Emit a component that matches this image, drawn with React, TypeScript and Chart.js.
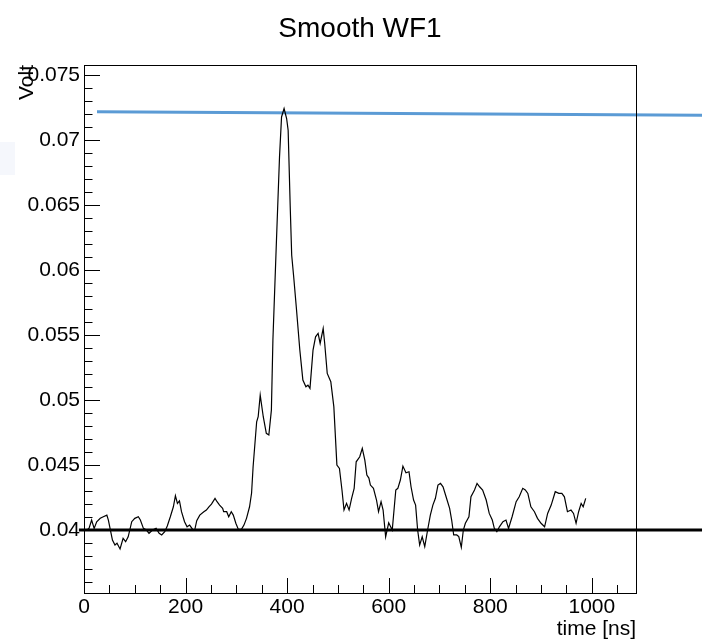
import { useEffect, useRef } from "react";
import { Chart, registerables } from "chart.js";

Chart.register(...registerables);

const FONT = "'Liberation Sans', Arial, Helvetica, sans-serif";

const TITLE = "Smooth WF1";
const X_TITLE = "time [ns]";
const Y_TITLE = "Volt";

const X_RANGE = [0, 1087];
const Y_RANGE = [0.035154, 0.07579];
const X_TICKS = [0, 200, 400, 600, 800, 1000];
const X_TICK_LABELS = ["0", "200", "400", "600", "800", "1000"];
const Y_TICKS = [0.04, 0.045, 0.05, 0.055, 0.06, 0.065, 0.07, 0.075];
const Y_TICK_LABELS = ["0.04", "0.045", "0.05", "0.055", "0.06", "0.065", "0.07", "0.075"];
const X_MINOR_STEP = 50;
const Y_MINOR_STEP = 0.001;

const TIME_NS = [
  6, 10, 15, 20, 25, 32, 38, 45, 48, 52, 56, 61, 65, 71, 77, 82, 87, 94, 100, 107,
  111, 117, 123, 128, 135, 142, 148, 153, 159, 164, 170, 176, 180, 184, 188, 192, 198, 203, 208, 214,
  218, 222, 228, 236, 241, 246, 251, 258, 262, 267, 273, 275, 281, 285, 290, 294, 299, 304, 310, 315,
  320, 326, 330, 333, 340, 343, 347, 353, 359, 364, 369, 372, 379, 385, 389, 394, 399, 402, 406, 409,
  413, 418, 425, 431, 437, 441, 445, 451, 456, 461, 465, 471, 474, 479, 486, 492, 498, 503, 508, 512,
  517, 522, 527, 532, 536, 543, 548, 553, 557, 561, 564, 570, 576, 580, 585, 589, 594, 600, 607, 614,
  618, 623, 628, 634, 640, 644, 649, 653, 657, 661, 666, 671, 677, 682, 687, 692, 697, 702, 707, 713,
  720, 724, 728, 734, 738, 743, 747, 751, 758, 762, 769, 774, 779, 785, 792, 798, 804, 808, 813, 818,
  825, 831, 836, 843, 851, 857, 864, 869, 874, 880, 887, 893, 900, 907, 913, 920, 928, 935, 941, 946,
  952, 959, 964, 969, 974, 979, 983, 988,
];

const VOLT = [
  0.0400, 0.04015, 0.04077, 0.04013, 0.04064, 0.0409, 0.04102, 0.04115, 0.04077, 0.0400, 0.03923, 0.03885, 0.03898, 0.03854, 0.03936, 0.0391, 0.03948, 0.04064, 0.0409, 0.04102,
  0.04077, 0.04013, 0.0400, 0.03975, 0.0400, 0.04013, 0.03975, 0.03962, 0.03987, 0.04031, 0.04102, 0.04179, 0.04264, 0.04205, 0.04225, 0.04141, 0.04064, 0.04025, 0.04038, 0.04005,
  0.0400, 0.04072, 0.04115, 0.04141, 0.04154, 0.04179, 0.042, 0.04244, 0.04218, 0.04192, 0.04167, 0.04141, 0.04141, 0.04102, 0.04141, 0.04115, 0.04052, 0.04005, 0.04005, 0.04038,
  0.0409, 0.04179, 0.04285, 0.04487, 0.04833, 0.04872, 0.05038, 0.04872, 0.04744, 0.04731, 0.04923, 0.05462, 0.0623, 0.06871, 0.07179, 0.07244, 0.07167, 0.07077, 0.065, 0.06115,
  0.05946, 0.05718, 0.05385, 0.05154, 0.05103, 0.05115, 0.0509, 0.05385, 0.05487, 0.05513, 0.05436, 0.05551, 0.05436, 0.05205, 0.05141, 0.04948, 0.045, 0.04474, 0.04308, 0.04154,
  0.04205, 0.04154, 0.04244, 0.04321, 0.04525, 0.04564, 0.04628, 0.04538, 0.04423, 0.044, 0.04346, 0.04321, 0.04231, 0.04141, 0.04218, 0.04154, 0.03948, 0.04056, 0.0400, 0.04308,
  0.04321, 0.04385, 0.04492, 0.04441, 0.04449, 0.04333, 0.04231, 0.04192, 0.0400, 0.03885, 0.03948, 0.03872, 0.04008, 0.04115, 0.04192, 0.04244, 0.04346, 0.04359, 0.04333, 0.04256,
  0.04167, 0.04077, 0.03962, 0.03962, 0.03949, 0.03867, 0.0400, 0.04052, 0.04102, 0.04256, 0.04308, 0.04359, 0.04333, 0.04308, 0.04231, 0.04128, 0.04077, 0.04013, 0.03987, 0.04025,
  0.04064, 0.04077, 0.04013, 0.04102, 0.04218, 0.04256, 0.04321, 0.04308, 0.04282, 0.04179, 0.04141, 0.0409, 0.04052, 0.04025, 0.04128, 0.04192, 0.04295, 0.04282, 0.04282, 0.04256,
  0.04141, 0.04154, 0.04128, 0.04052, 0.04141, 0.04205, 0.04179, 0.04244,
];

// horizontal reference lines (extend past the frame)
const BASELINE_T = [-10, 1217];
const BASELINE_V = [0.04, 0.04];
const FIT_T = [25.6, 1217];
const FIT_V = [0.07219, 0.07192];

const rootFrame = {
  id: "rootFrame",
  afterDatasetsDraw(chart: any) {
    const { ctx, chartArea: a, scales } = chart;
    const x = scales.x;
    const y = scales.y;
    ctx.save();
    ctx.strokeStyle = "#000";
    ctx.lineWidth = 1;
    ctx.strokeRect(Math.round(a.left) + 0.5, Math.round(a.top) + 0.5, Math.round(a.right - a.left), Math.round(a.bottom - a.top));
    ctx.beginPath();
    const xi0 = Math.ceil(X_RANGE[0] / X_MINOR_STEP);
    const xi1 = Math.floor(X_RANGE[1] / X_MINOR_STEP);
    for (let i = xi0; i <= xi1; i++) {
      const v = i * X_MINOR_STEP;
      const px = Math.round(x.getPixelForValue(v)) + 0.5;
      const len = X_TICKS.includes(v) ? 15 : 8;
      ctx.moveTo(px, a.bottom);
      ctx.lineTo(px, a.bottom - len);
    }
    const yi0 = Math.ceil(Y_RANGE[0] / Y_MINOR_STEP - 1e-6);
    const yi1 = Math.floor(Y_RANGE[1] / Y_MINOR_STEP + 1e-6);
    for (let i = yi0; i <= yi1; i++) {
      const v = i * Y_MINOR_STEP;
      const py = Math.round(y.getPixelForValue(v)) + 0.5;
      const major = i % 5 === 0;
      const len = major ? 16 : 8.5;
      ctx.moveTo(a.left, py);
      ctx.lineTo(a.left + len, py);
    }
    ctx.stroke();
    ctx.restore();
  },
};

export default function App() {
  const ref = useRef<HTMLCanvasElement | null>(null);

  useEffect(() => {
    if (!ref.current) return;
    const toPts = (xs: number[], ys: number[]) => xs.map((t, i) => ({ x: t, y: ys[i] }));
    const chart = new Chart(ref.current, {
      type: "line",
      data: {
        datasets: [
          {
            data: toPts(TIME_NS, VOLT),
            borderColor: "#000",
            borderWidth: 1.2,
            pointRadius: 0,
            tension: 0,
            fill: false,
          },
          {
            data: toPts(BASELINE_T, BASELINE_V),
            borderColor: "#000",
            borderWidth: 3,
            pointRadius: 0,
            clip: false as any,
          },
          {
            data: toPts(FIT_T, FIT_V),
            borderColor: "#5b9bd5",
            borderWidth: 3,
            pointRadius: 0,
            clip: false as any,
          },
        ],
      },
      options: {
        responsive: false,
        animation: false,
        devicePixelRatio: 1,
        events: [],
        layout: { padding: { left: 0, top: 0, right: 67, bottom: 0 } },
        plugins: {
          legend: { display: false },
          tooltip: { enabled: false },
          title: {
            display: true,
            text: TITLE,
            fullSize: false,
            color: "#000",
            font: { family: FONT, size: 28, weight: "normal" },
            padding: { top: 12.5, bottom: 18.9 },
          },
        },
        scales: {
          x: {
            type: "linear",
            min: X_RANGE[0],
            max: X_RANGE[1],
            grid: { display: false, drawTicks: false },
            border: { display: false },
            afterBuildTicks: (s: any) => {
              s.ticks = X_TICKS.map((v) => ({ value: v }));
            },
            afterFit: (s: any) => {
              s.height = 49;
            },
            ticks: {
              autoSkip: false,
              maxRotation: 0,
              padding: 2,
              color: "#000",
              font: { family: FONT, size: 21 },
              callback: (v: any) => X_TICK_LABELS[X_TICKS.indexOf(Number(v))] ?? "",
            },
            title: {
              display: true,
              text: X_TITLE,
              align: "end",
              color: "#000",
              font: { family: FONT, size: 21 },
              padding: { top: 0, bottom: 0 },
            },
          },
          y: {
            type: "linear",
            min: Y_RANGE[0],
            max: Y_RANGE[1],
            grid: { display: false, drawTicks: false },
            border: { display: false },
            afterBuildTicks: (s: any) => {
              s.ticks = Y_TICKS.map((v) => ({ value: v }));
            },
            afterFit: (s: any) => {
              s.width = 84;
            },
            ticks: {
              autoSkip: false,
              padding: 4,
              color: "#000",
              font: { family: FONT, size: 21 },
              callback: (v: any) => {
                const i = Y_TICKS.findIndex((t) => Math.abs(t - Number(v)) < 1e-9);
                return i >= 0 ? Y_TICK_LABELS[i] : "";
              },
            },
            title: {
              display: true,
              text: Y_TITLE,
              align: "end",
              color: "#000",
              font: { family: FONT, size: 21 },
              padding: { top: 15, bottom: 0 },
            },
          },
        },
      } as any,
      plugins: [rootFrame],
    });
    return () => chart.destroy();
  }, []);

  return (
    <div style={{ position: "fixed", left: 0, top: 0, width: 703, height: 642, background: "#fff" }}>
      <div style={{ position: "absolute", left: 0, top: 142, width: 15, height: 33, background: "#f5f7fc" }} />
      <canvas ref={ref} width={703} height={642} style={{ position: "absolute", left: 0, top: 0, width: 703, height: 642 }} />
    </div>
  );
}
